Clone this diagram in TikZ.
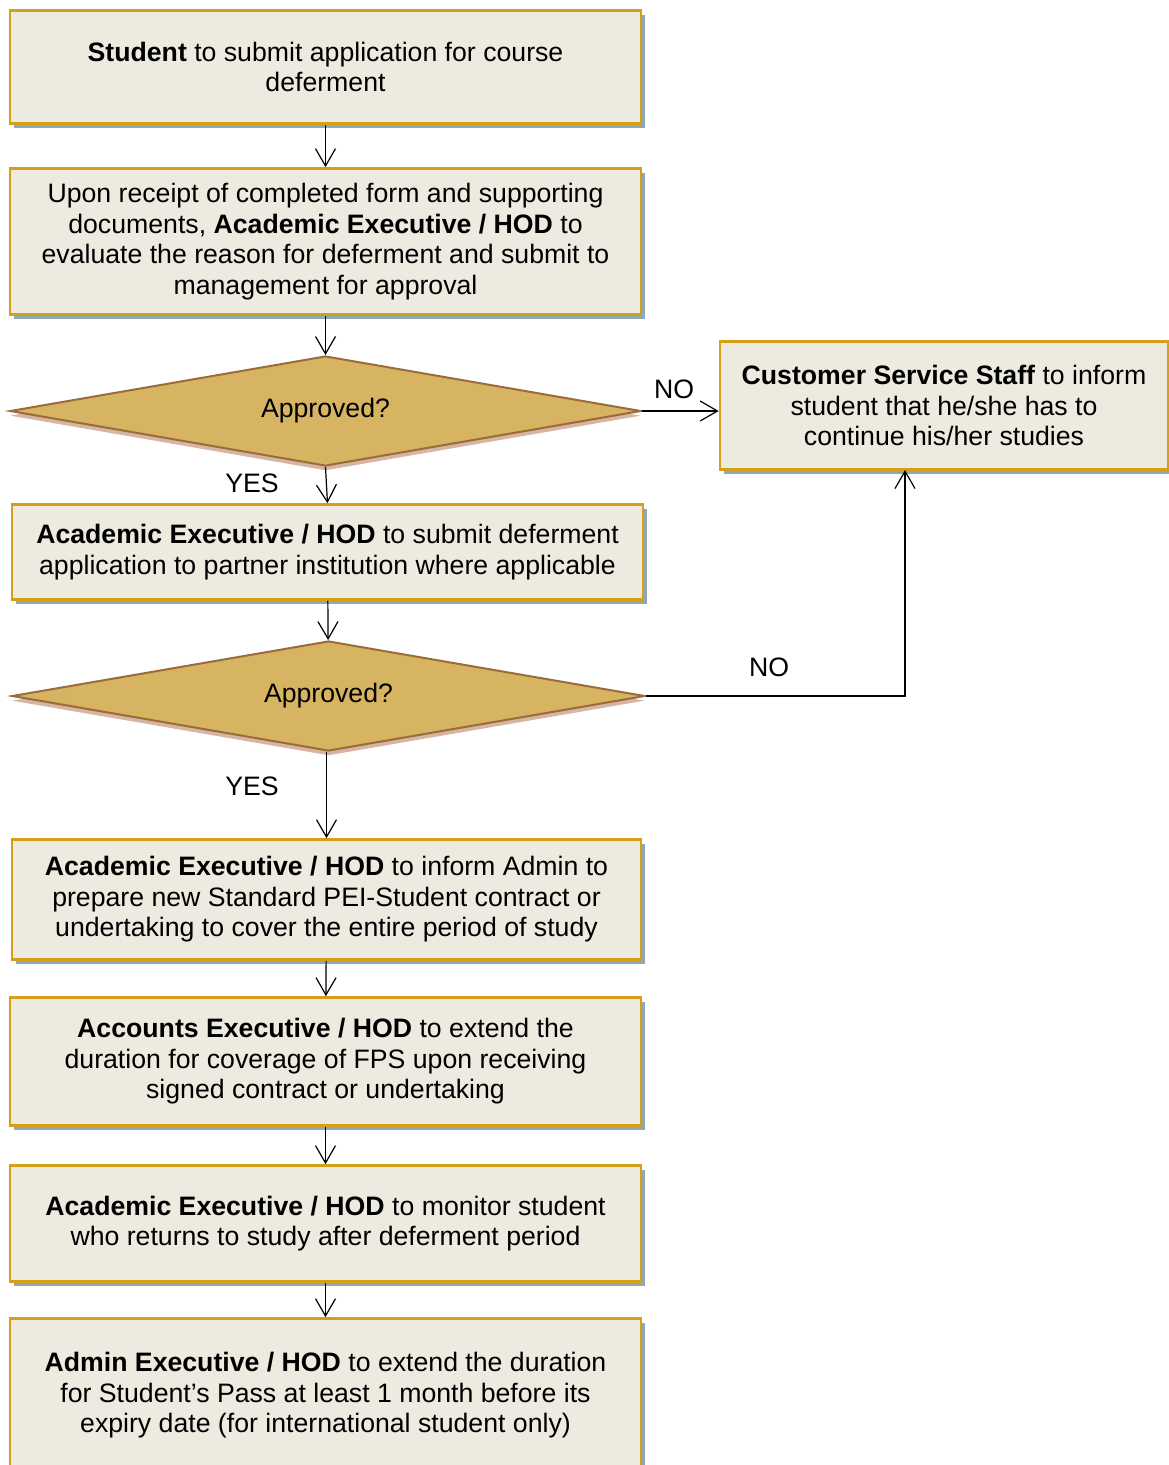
\documentclass[tikz,border=0pt]{standalone}
\usepackage{fontspec}
\setmainfont{Liberation Sans}
\usetikzlibrary{shapes.geometric,shadows,arrows.meta}
\definecolor{boxfill}{HTML}{EDEADF}
\definecolor{boxline}{HTML}{D4A017}
\definecolor{boxshade}{HTML}{8FA9B3}
\definecolor{askfill}{HTML}{D6B461}
\definecolor{askline}{HTML}{9B6B3A}
\definecolor{askshade}{HTML}{D7B5A3}

\begin{document}
\begin{tikzpicture}[
x=0.75pt, y=-0.75pt,
every node/.style={font=\fontsize{20}{22.9}\selectfont},
stage/.style={draw=boxline, fill=boxfill, line width=2pt, align=center,
  inner sep=0pt, minimum width=631*0.75pt,
  drop shadow={shadow xshift=3pt, shadow yshift=-3pt, fill=boxshade, opacity=1}},
ask/.style={diamond, aspect=6, draw=askline, fill=askfill, line width=1.5pt, inner sep=0pt,
  minimum width=631*0.75pt, minimum height=110*0.75pt,
  drop shadow={shadow xshift=0pt, shadow yshift=-3.5pt, fill=askshade, opacity=1}},
flow/.style={-{Straight Barb[length=13pt, width=15pt]}, line width=0.9pt},
]
\useasboundingbox (0,0) rectangle (1169,1465);

\node[stage, minimum height=113*0.75pt] (submit) at (325.5,67)
  {\textbf{Student} to submit application for course\\deferment};
\node[stage, minimum height=146*0.75pt] (evaluate) at (325.5,241.5)
  {Upon receipt of completed form and supporting\\documents, \textbf{Academic Executive / HOD} to\\evaluate the reason for deferment and submit to\\management for approval};
\node[ask] (ask1) at (325.5,411) {Approved?};
\node[stage, minimum width=448*0.75pt, minimum height=128*0.75pt] (inform) at (944,405.5)
  {\textbf{Customer Service Staff} to inform\\student that he/she has to\\continue his/her studies};
\node[stage, minimum height=95*0.75pt] (partner) at (327.5,552)
  {\textbf{Academic Executive / HOD} to submit deferment\\application to partner institution where applicable};
\node[ask, minimum width=633*0.75pt] (ask2) at (328.5,696) {Approved?};
\node[stage, minimum width=629*0.75pt, minimum height=120*0.75pt] (contract) at (326.5,899.5)
  {\textbf{Academic Executive / HOD} to inform Admin to\\prepare new Standard PEI-Student contract or\\undertaking to cover the entire period of study};
\node[stage, minimum height=128*0.75pt] (fps) at (325.5,1061.5)
  {\textbf{Accounts Executive / HOD} to extend the\\duration for coverage of FPS upon receiving\\signed contract or undertaking};
\node[stage, minimum height=116*0.75pt] (monitor) at (325.5,1223.5)
  {\textbf{Academic Executive / HOD} to monitor student\\who returns to study after deferment period};
\node[stage, minimum height=154*0.75pt] (pass) at (325.5,1395.5)
  {\textbf{Admin Executive / HOD} to extend the duration\\for Student’s Pass at least 1 month before its\\expiry date (for international student only)};

\coordinate (informin) at (905,470);
\node (no1) at (674,389) {NO};
\node (yes1) at (252,483) {YES};
\node (no2) at (769,667) {NO};
\node (yes2) at (252,786) {YES};

\draw[flow] (submit) -- (evaluate);
\draw[flow] (evaluate) -- (ask1);
\draw[flow] (ask1.east) -- (inform.west |- ask1.east);
\draw[flow] (ask1.south) -- (partner.north);
\draw[flow] (partner) -- (ask2);
\draw[flow] (ask2.east) -| (informin);
\draw[flow] (contract.north |- ask2.south) -- (contract.north);
\draw[flow] (contract) -- (fps);
\draw[flow] (fps) -- (monitor);
\draw[flow] (monitor) -- (pass);
\end{tikzpicture}
\end{document}
